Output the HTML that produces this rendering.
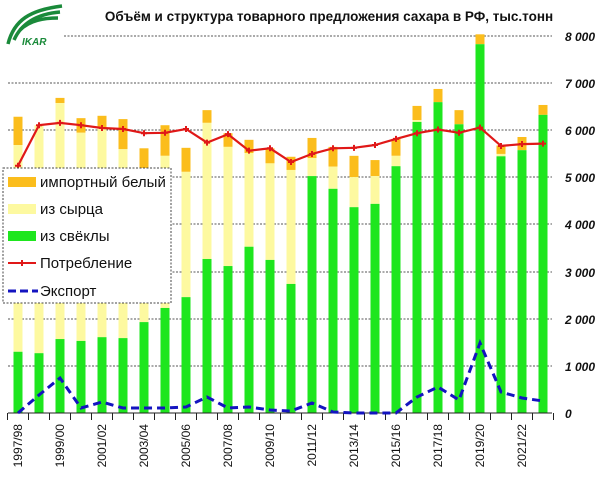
<!DOCTYPE html>
<html><head><meta charset="utf-8"><style>
body{margin:0;background:#fff;width:600px;height:479px;overflow:hidden}
svg{display:block;font-family:"Liberation Sans","DejaVu Sans",sans-serif}
</style></head><body>
<svg id="s" width="600" height="479" xmlns="http://www.w3.org/2000/svg">
<g id="g"></g>
<text x="329" y="21" text-anchor="middle" font-size="13.5" font-weight="bold" fill="#111">Объём и структура товарного предложения сахара в РФ, тыс.тонн</text>
<g fill="none" stroke="#1a8a3a" stroke-width="3.5">
<path d="M8 44 C14 20 30 10 62 6"/><path d="M14 40 C22 22 38 14 60 12"/><path d="M20 30 C30 20 44 18 58 18"/>
</g>
<text x="22" y="45" font-size="10" font-style="italic" font-weight="bold" fill="#1a8a3a">IKAR</text>
</svg>
<script>
var g=document.getElementById('g'),h='';
function Y(v){return 413-v*0.0471;}
function X(i){return 18+i*21;}
var grids=[[8000,36],[7000,83],[6000,130],[5000,177],[4000,224],[3000,272],[2000,319],[1000,366]];
grids.forEach(function(a){var x0=a[0]==8000?64:8;h+='<line x1="'+x0+'" x2="552" y1="'+a[1]+'" y2="'+a[1]+'" stroke="#555" stroke-width="1" stroke-dasharray="2,1.5"/>';});
var tot=[6290,6110,6690,6260,6310,6240,5620,6110,5630,6430,5940,5800,5620,5440,5840,5650,5460,5370,5820,6520,6880,6430,8040,5680,5860,6540];
var bnd=[5690,6110,6580,5950,6070,5600,5160,5460,5120,6160,5650,5520,5300,5160,5410,5230,5010,5030,5460,6220,6600,6130,7830,5500,5580,6330];
var grn=[1300,1270,1570,1530,1610,1590,1930,2230,2460,3270,3120,3530,3250,2740,5030,4760,4370,4440,5240,6180,6600,6130,7830,5450,5580,6330];
for(var i=0;i<26;i++){var x=X(i)-4.5;
h+='<rect x="'+x+'" y="'+Y(tot[i])+'" width="9" height="'+(Y(bnd[i])-Y(tot[i]))+'" fill="#fbbd1c"/>';
h+='<rect x="'+x+'" y="'+Y(bnd[i])+'" width="9" height="'+(Y(grn[i])-Y(bnd[i]))+'" fill="#fdf9a0"/>';
h+='<rect x="'+x+'" y="'+Y(grn[i])+'" width="9" height="'+(413-Y(grn[i]))+'" fill="#1ee61e"/>';}
h+='<line x1="8" x2="552" y1="413" y2="413" stroke="#222" stroke-width="1"/>';
for(var i=0;i<=26;i++){var x=7.5+i*21;h+='<line x1="'+x+'" x2="'+x+'" y1="413" y2="420" stroke="#222"/>';}
var labs=['1997/98','1999/00','2001/02','2003/04','2005/06','2007/08','2009/10','2011/12','2013/14','2015/16','2017/18','2019/20','2021/22'];
labs.forEach(function(l,k){var x=X(2*k)+4;h+='<text transform="translate('+x+',424) rotate(-90)" text-anchor="end" font-size="12" fill="#111">'+l+'</text>';});
grids.concat([[0,413]]).forEach(function(a){var t=a[0]==0?'0':(a[0]/1000)+' 000';h+='<text x="565" y="'+(a[1]+5)+'" font-size="12" font-weight="bold" font-style="italic" fill="#111">'+t+'</text>';});
var cons=[5250,6110,6160,6110,6050,6030,5940,5950,6030,5740,5920,5570,5620,5330,5500,5620,5630,5690,5820,5940,6020,5950,6060,5670,5710,5720];
var p=cons.map(function(v,i){return X(i)+','+Y(v).toFixed(1)}).join(' ');
h+='<polyline points="'+p+'" fill="none" stroke="#e01818" stroke-width="2.2"/>';
cons.forEach(function(v,i){h+='<path d="M'+(X(i)-3)+' '+Y(v)+'h6M'+X(i)+' '+(Y(v)-3)+'v6" stroke="#e01818" stroke-width="2"/>';});
var ex=[413,395,378,408,402,408,408,408,407,397,408,407,410,411,403,412,413,413,413,397,387,400,343,392,398,401];
h+='<polyline points="'+ex.map(function(y,i){return X(i)+','+y}).join(' ')+'" fill="none" stroke="#1414c0" stroke-width="3" stroke-dasharray="8,5"/>';
h+='<rect x="3" y="168" width="168" height="135" fill="#fff" stroke="#444" stroke-dasharray="2,1.5"/>';
var L=[['импортный белый',182,'#fbbd1c'],['из сырца',209,'#fdf9a0'],['из свёклы',236,'#1ee61e']];
L.forEach(function(a){h+='<rect x="8" y="'+(a[1]-5)+'" width="28" height="10" fill="'+a[2]+'"/><text x="40" y="'+(a[1]+5)+'" font-size="15" fill="#111">'+a[0]+'</text>';});
h+='<line x1="8" x2="36" y1="263" y2="263" stroke="#e01818" stroke-width="2"/><path d="M19 263h6M22 260v6" stroke="#e01818" stroke-width="2"/><text x="40" y="268" font-size="15" fill="#111">Потребление</text>';
h+='<line x1="8" x2="38" y1="291" y2="291" stroke="#1414c0" stroke-width="3" stroke-dasharray="8,4"/><text x="40" y="296" font-size="15" fill="#111">Экспорт</text>';
g.innerHTML=h;
</script>
</body></html>
